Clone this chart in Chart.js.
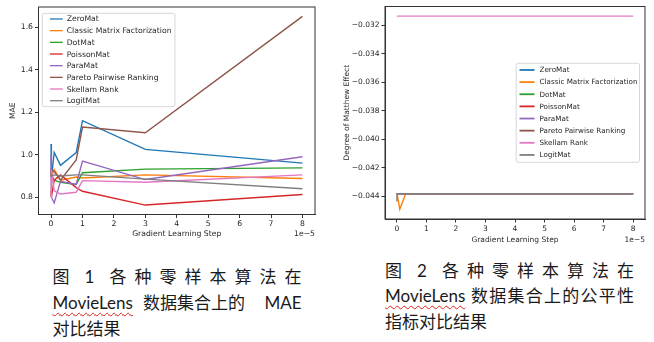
<!DOCTYPE html>
<html lang="zh-CN">
<head>
<meta charset="UTF-8">
<title>零样本算法 MAE 与公平性对比</title>
<style>
  html, body { margin: 0; padding: 0; background: #fff; }
  body { width: 654px; height: 342px; position: relative; overflow: hidden; }
  canvas { position: absolute; top: 0; }
  #grafico-mae { left: 0; }
  #grafico-matthew { left: 330px; }
  .legenda {
    position: absolute;
    font-family: Lato, "Noto Sans CJK SC", sans-serif;
    font-size: 17px;
    color: #1a1a1a;
    width: 249px;
  }
  .legenda div { white-space: nowrap; }
  .just { text-align: justify; text-align-last: justify; }
  .flex { display: flex; justify-content: space-between; }
  .num { padding: 0 7px; }
  .sublinhado { text-decoration: underline wavy #e0201b; text-decoration-thickness: 1px; text-underline-offset: 3px; }
</style>
</head>
<body>

<canvas id="grafico-mae" width="322" height="245"></canvas>
<canvas id="grafico-matthew" width="324" height="250"></canvas>

<div class="legenda" style="left:52.5px; top:264px; line-height:26px;">
  <div class="flex"><span>图</span><span class="num">1</span><span>各</span><span>种</span><span>零</span><span>样</span><span>本</span><span>算</span><span>法</span><span>在</span></div>
  <div class="flex"><span><span class="sublinhado">MovieLens</span><span style="margin-left:10px">数据集合上的</span></span><span>MAE</span></div>
  <div>对比结果</div>
</div>

<div class="legenda" style="left:385px; top:257.5px; line-height:25.5px;">
  <div class="flex"><span>图</span><span class="num">2</span><span>各</span><span>种</span><span>零</span><span>样</span><span>本</span><span>算</span><span>法</span><span>在</span></div>
  <div class="just"><span class="sublinhado">MovieLens</span> 数据集合上的公平性</div>
  <div>指标对比结果</div>
</div>

<script src="https://cdn.jsdelivr.net/npm/chart.js"></script>
<script>
  // passo de aprendizagem, em unidades de 1e-5
  const PASSOS = [0, 0.01, 0.1, 0.3, 0.8, 1, 3, 8];
  const ALGORITMOS = ['ZeroMat', 'Classic Matrix Factorization', 'DotMat', 'PoissonMat',
                      'ParaMat', 'Pareto Pairwise Ranking', 'Skellam Rank', 'LogitMat'];
  const CORES = ['#1f77b4', '#ff7f0e', '#2ca02c', '#d62728', '#9467bd', '#8c564b', '#e377c2', '#7f7f7f'];

  // figura 1: MAE
  const MAE_ZEROMAT  = [1.05, 0.89, 1.01, 0.95, 1.01, 1.16, 1.025, 0.96];
  const MAE_CLASSIC  = [0.92, 0.90, 0.93, 0.88, 0.895, 0.89, 0.905, 0.888];
  const MAE_DOTMAT   = [0.90, 0.91, 0.88, 0.87, 0.86, 0.915, 0.932, 0.938];
  const MAE_POISSON  = [0.83, 0.80, 0.88, 0.905, 0.845, 0.828, 0.763, 0.813];
  const MAE_PARAMAT  = [1.00, 0.80, 0.773, 0.875, 0.86, 0.97, 0.883, 0.99];
  const MAE_PARETO   = [0.90, 0.93, 0.92, 0.88, 0.975, 1.13, 1.103, 1.65];
  const MAE_SKELLAM  = [0.80, 0.93, 0.83, 0.815, 0.823, 0.878, 0.87, 0.905];
  const MAE_LOGITMAT = [0.91, 0.90, 0.905, 0.90, 0.905, 0.905, 0.885, 0.84];

  // figura 2: grau do efeito Matthew
  const MT_ZEROMAT  = [-0.04381, -0.04381, -0.04381, -0.04381, -0.04381, -0.04381, -0.04381, -0.04381];
  const MT_CLASSIC  = [-0.04381, -0.04381, -0.04491, -0.04381, -0.04381, -0.04381, -0.04381, -0.04381];
  const MT_DOTMAT   = [-0.04381, -0.04381, -0.04381, -0.04381, -0.04381, -0.04381, -0.04381, -0.04381];
  const MT_POISSON  = [-0.04381, -0.04381, -0.04381, -0.04381, -0.04381, -0.04381, -0.04381, -0.04381];
  const MT_PARAMAT  = [-0.04381, -0.04381, -0.04381, -0.04381, -0.04381, -0.04381, -0.04381, -0.04381];
  const MT_PARETO   = [-0.04381, -0.04381, -0.04381, -0.04381, -0.04381, -0.04381, -0.04381, -0.04381];
  const MT_SKELLAM  = [-0.03135, -0.03135, -0.03135, -0.03135, -0.03135, -0.03135, -0.03135, -0.03135];
  const MT_LOGITMAT = [-0.04435, -0.04381, -0.04381, -0.04381, -0.04381, -0.04381, -0.04381, -0.04381];

  const X_TICKS = [0, 1, 2, 3, 4, 5, 6, 7, 8];
  const Y_TICKS_MAE = [0.8, 1.0, 1.2, 1.4, 1.6];
  const Y_TICKS_MATTHEW = [-0.044, -0.042, -0.040, -0.038, -0.036, -0.034, -0.032];

  const SERIES_MAE = [MAE_ZEROMAT, MAE_CLASSIC, MAE_DOTMAT, MAE_POISSON, MAE_PARAMAT, MAE_PARETO, MAE_SKELLAM, MAE_LOGITMAT];
  const SERIES_MT = [MT_ZEROMAT, MT_CLASSIC, MT_DOTMAT, MT_POISSON, MT_PARAMAT, MT_PARETO, MT_SKELLAM, MT_LOGITMAT];

  const TINTA = '#262626';
  const FONTE = '"DejaVu Sans", sans-serif';

  // moldura completa dos eixos + texto "1e−5" + legenda em caixa, como no matplotlib
  const estiloMatplotlib = {
    id: 'estiloMatplotlib',
    afterDraw(chart, args, o) {
      const { ctx, chartArea: a } = chart;
      ctx.save();
      ctx.strokeStyle = '#333';
      ctx.lineWidth = 1;
      ctx.strokeRect(a.left, a.top, a.right - a.left, a.bottom - a.top);

      ctx.font = `${o.fonte}px ${FONTE}`;
      ctx.fillStyle = TINTA;
      ctx.textAlign = 'right';
      ctx.textBaseline = 'middle';
      ctx.fillText('1e\u22125', a.right, o.yEscala);

      // legenda
      ctx.font = `${o.fonteLeg}px ${FONTE}`;
      const larg = Math.max(...ALGORITMOS.map(n => ctx.measureText(n).width));
      const w = o.padL + o.linha + o.gap + larg + o.padR;
      const h = o.padT + o.passo * (ALGORITMOS.length - 1) + o.padB;
      let x, y;
      if (o.local === 'upper left') {
        x = a.left + o.mx; y = a.top + o.my;
      } else {
        x = a.right - o.mx - w; y = (a.top + a.bottom) / 2 - h / 2;
      }
      ctx.beginPath();
      ctx.roundRect(x, y, w, h, 2);
      ctx.fillStyle = 'rgba(255,255,255,0.8)';
      ctx.fill();
      ctx.strokeStyle = '#cccccc';
      ctx.lineWidth = 0.8;
      ctx.stroke();
      ctx.textAlign = 'left';
      ALGORITMOS.forEach((nome, i) => {
        const cy = y + o.padT + i * o.passo;
        ctx.beginPath();
        ctx.moveTo(x + o.padL, cy);
        ctx.lineTo(x + o.padL + o.linha, cy);
        ctx.strokeStyle = CORES[i];
        ctx.lineWidth = o.espLinha;
        ctx.stroke();
        ctx.fillStyle = TINTA;
        ctx.fillText(nome, x + o.padL + o.linha + o.gap, cy + 0.5);
      });
      ctx.restore();
    }
  };

  function limites(series) {
    const todos = series.flat();
    const min = Math.min(...todos), max = Math.max(...todos);
    const m = (max - min) * 0.05;
    return [min - m, max + m];
  }

  function criarGrafico(id, series, cfg) {
    const [ymin, ymax] = limites(series);
    return new Chart(document.getElementById(id), {
      type: 'line',
      data: {
        datasets: series.map((s, i) => ({
          label: ALGORITMOS[i],
          data: PASSOS.map((p, j) => ({ x: p, y: s[j] })),
          borderColor: CORES[i],
          borderWidth: 1.4,
          pointRadius: 0,
          tension: 0,
          fill: false,
          order: -i
        }))
      },
      options: {
        responsive: false,
        animation: false,
        devicePixelRatio: 1,
        layout: { padding: cfg.padding },
        plugins: {
          legend: { display: false },
          tooltip: { enabled: false },
          estiloMatplotlib: cfg.estilo
        },
        scales: {
          x: {
            type: 'linear', min: -0.4, max: 8.4,
            afterBuildTicks: s => { s.ticks = X_TICKS.map(v => ({ value: v })); },
            afterFit: s => { s.height = cfg.alturaX; },
            grid: { drawOnChartArea: false, drawTicks: true, tickLength: 3.5, color: '#333' },
            border: { display: true, color: '#333' },
            ticks: { padding: cfg.padTickX, color: TINTA, font: { family: FONTE, size: cfg.fonte }, callback: v => String(v) },
            title: { display: true, text: 'Gradient Learning Step', color: TINTA, font: { family: FONTE, size: cfg.fonte }, padding: { top: 0, bottom: cfg.padTituloX } }
          },
          y: {
            type: 'linear', min: ymin, max: ymax,
            afterBuildTicks: s => { s.ticks = cfg.yTicks.map(v => ({ value: v })); },
            afterFit: s => { s.width = cfg.larguraY; },
            grid: { drawOnChartArea: false, drawTicks: true, tickLength: 3.5, color: '#333' },
            border: { display: true, color: '#333' },
            ticks: { padding: 2, color: TINTA, font: { family: FONTE, size: cfg.fonte }, callback: cfg.formato },
            title: { display: true, text: cfg.tituloY, color: TINTA, font: { family: FONTE, size: cfg.fonte }, padding: { top: cfg.padTituloY, bottom: 0 } }
          }
        }
      },
      plugins: [estiloMatplotlib]
    });
  }

  criarGrafico('grafico-mae', SERIES_MAE, {
    padding: { left: 0, top: 7, right: 7, bottom: 0 },
    larguraY: 38.5, alturaX: 30.5,
    fonte: 7.7, padTickX: 1, padTituloX: 6, padTituloY: 8.7,
    yTicks: Y_TICKS_MAE, tituloY: 'MAE',
    formato: v => v.toFixed(1),
    estilo: {
      fonte: 7.7, yEscala: 234.3, fonteLeg: 7.7, local: 'upper left', mx: 3.8, my: 6.3,
      padL: 7.7, linha: 12.7, gap: 4, padR: 3.4, padT: 5.7, passo: 11.67, padB: 6, espLinha: 1.3
    }
  });

  criarGrafico('grafico-matthew', SERIES_MT, {
    padding: { left: 0, top: 6, right: 9, bottom: 0 },
    larguraY: 55, alturaX: 31,
    fonte: 7.5, padTickX: 2.3, padTituloX: 5.6, padTituloY: 12.2,
    yTicks: Y_TICKS_MATTHEW, tituloY: 'Degree of Matthew Effect',
    formato: v => v.toFixed(3).replace('-', '\u2212'),
    estilo: {
      fonte: 7.5, yEscala: 240, fonteLeg: 7.2, local: 'center right', mx: 5.5, my: 0,
      padL: 3.3, linha: 15, gap: 5, padR: 2, padT: 6.7, passo: 12.14, padB: 7.3, espLinha: 1.8
    }
  });
</script>
</body>
</html>
